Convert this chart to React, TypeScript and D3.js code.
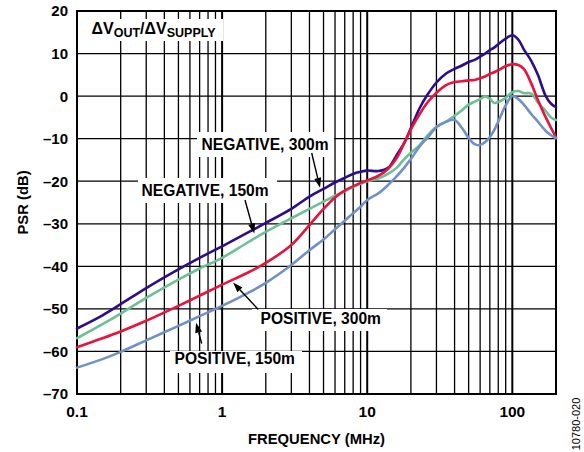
import React from "react";
import * as d3 from "d3";

// ---------- data ----------
const freqMHz = [0.1, 0.15, 0.2, 0.3, 0.5, 0.7, 1, 1.5, 2, 3, 4, 5, 6, 7, 8, 9, 10, 12, 14, 16, 18, 20, 23, 26, 30, 35, 40, 45, 50, 55, 60, 65, 70, 75, 80, 90, 100, 110, 120, 135, 150, 170, 185, 200];

const negative300m = [-54.6, -51.5, -48.9, -45.1, -40.7, -38.0, -35.3, -32.1, -29.8, -26.5, -23.6, -21.8, -20.3, -19.2, -18.3, -17.8, -17.5, -17.6, -16.8, -13.8, -11, -7.5, -2.8, 0.3, 3.2, 5.3, 6.4, 7.2, 8, 8.5, 9.3, 10, 10.8, 11.4, 12.2, 13.5, 14.3, 13.3, 11, 8.3, 5, 0, -1.8, -2.6];
const positive300m = [-59, -56.9, -55.3, -52.8, -49.3, -46.9, -44.3, -41.5, -39.2, -35, -30.3, -26.5, -23.8, -22.2, -21.2, -20.4, -19.8, -18.7, -17, -14.5, -11, -7.8, -4.2, -1.5, 0.8, 2.6, 3.3, 3.5, 3.7, 3.8, 4.2, 4.6, 5.2, 5.6, 6.1, 7, 7.5, 7.3, 6.4, 3, -0.9, -5, -7.5, -9.7];
const negative150m = [-56.9, -53.6, -51.1, -47.4, -43.1, -40.5, -38, -34.4, -31.9, -28.7, -26.5, -24.8, -23.4, -22.3, -21.3, -20.6, -20, -19.3, -18.2, -16.8, -14.8, -13.3, -11.5, -9.3, -7.2, -6, -4.6, -3.3, -2, -1.3, -0.7, -0.1, -0.6, -1.6, -1.4, -0.4, 0.9, 1.2, 0.7, 0.6, -1.5, -3.5, -5, -5.6];
const positive150m = [-63.8, -61.8, -60.1, -57.4, -54.0, -51.7, -49.3, -46.3, -43.9, -39.7, -36.2, -33.7, -31.3, -29.3, -27.5, -26, -24.4, -22.8, -20.8, -18.8, -16.8, -14.8, -11.8, -9.8, -7.3, -6, -5.6, -7.5, -9.8, -11.3, -11.5, -10.8, -9.6, -8, -6, -2.2, 0, -0.7, -2, -4.2, -6, -8.2, -9.2, -9.9];

const seriesNames = ["NEGATIVE, 300m", "NEGATIVE, 150m", "POSITIVE, 300m", "POSITIVE, 150m"];
const seriesValues = [negative300m, negative150m, positive300m, positive150m];
const seriesColors = ["#2d0d8c", "#6dbf95", "#e8123d", "#7091c6"];

const xTickValues = [0.1, 1, 10, 100];
const xTickLabels = ["0.1", "1", "10", "100"];
const yTickValues = [20, 10, 0, -10, -20, -30, -40, -50, -60, -70];

// ---------- layout ----------
const W = 584;
const H = 452;
const left = 77, right = 556, top = 11, bottom = 394;
const FONT = "'Liberation Sans', Arial, Helvetica, sans-serif";

const x = d3.scaleLog().domain([0.1, 200]).range([left, right]);
const y = d3.scaleLinear().domain([-70, 20]).range([bottom, top]);

const fmtY = (v: number) => (v < 0 ? "\u2013" + Math.abs(v) : String(v));

function valueAt(vals: number[], f: number) {
  const lf = Math.log10(f);
  for (let i = 0; i < freqMHz.length - 1; i++) {
    const a = Math.log10(freqMHz[i]);
    const b = Math.log10(freqMHz[i + 1]);
    if (lf >= a && lf <= b) {
      const t = (lf - a) / (b - a);
      return vals[i] + t * (vals[i + 1] - vals[i]);
    }
  }
  return vals[vals.length - 1];
}

// label boxes: [boxX, boxY, boxW, boxH, textX, baseline, tailX, tailY, tipFreq, tipOffset]
const labelLayout: [number, number, number, number, number, number, number, number, number, number][] = [
  [197, 132, 137, 25, 201.5, 150, 311.7, 153, 4.73, -3],
  [138, 178, 139, 25, 141.5, 196, 245, 200, 1.667, -5],
  [252, 309, 135, 22, 260.5, 323.5, 258.3, 309.5, 1.19, 3],
  [170, 351, 132, 22, 174.5, 363.5, 201.7, 343.5, 0.661, 5],
];

function Arrow({ x1, y1, x2, y2 }: { x1: number; y1: number; x2: number; y2: number }) {
  const ang = Math.atan2(y2 - y1, x2 - x1);
  const L = 10, Wd = 3.5;
  const bx = x2 - L * Math.cos(ang);
  const by = y2 - L * Math.sin(ang);
  const px = -Math.sin(ang) * Wd;
  const py = Math.cos(ang) * Wd;
  return (
    <g>
      <line x1={x1} y1={y1} x2={bx} y2={by} stroke="#000" strokeWidth={1.4} />
      <polygon points={`${x2},${y2} ${bx + px},${by + py} ${bx - px},${by - py}`} fill="#000" />
    </g>
  );
}

export default function App() {
  const gridX: { v: number; major: boolean }[] = [];
  [0.1, 1, 10, 100].forEach((d) => {
    for (let m = 1; m <= 9; m++) {
      const v = d * m;
      if (v > 0.1 + 1e-9 && v < 200 - 1e-9) gridX.push({ v, major: m === 1 });
    }
  });

  const line = d3
    .line<number>()
    .x((_, i) => x(freqMHz[i]))
    .y((d) => y(d))
    .curve(d3.curveCatmullRom.alpha(0.5));

  return (
    <>
      <style>{"body{margin:0}"}</style>
      <svg width={W} height={H} style={{ position: "absolute", left: 0, top: 0, background: "#fff" }} fontFamily={FONT}>
        {/* grid */}
        {gridX.map((g, i) => (
          <line key={"gx" + i} x1={x(g.v)} x2={x(g.v)} y1={top} y2={bottom} stroke="#000" strokeWidth={g.major ? 2 : 1.3} />
        ))}
        {yTickValues.map((v, i) => (
          <line key={"gy" + i} x1={left} x2={right} y1={y(v)} y2={y(v)} stroke="#000" strokeWidth={1.3} />
        ))}
        <rect x={left} y={top} width={right - left} height={bottom - top} fill="none" stroke="#000" strokeWidth={2} />

        {/* header annotation */}
        <rect x={89} y={19} width={134} height={22} fill="#fff" />
        <text x={91.5} y={33.5} fontSize={16} fontWeight="bold">
          <tspan>ΔV</tspan>
          <tspan fontSize={12.5} dy={3}>OUT</tspan>
          <tspan dy={-3}>/ΔV</tspan>
          <tspan fontSize={12.5} dy={3}>SUPPLY</tspan>
        </text>

        {/* label boxes */}
        {labelLayout.map((l, i) => (
          <g key={"lb" + i}>
            <rect x={l[0]} y={l[1]} width={l[2]} height={l[3]} fill="#fff" />
            <text x={l[4]} y={l[5]} fontSize={15.6} fontWeight="bold">{seriesNames[i]}</text>
          </g>
        ))}

        {/* series */}
        {seriesValues.map((vals, i) => (
          <path key={"s" + i} d={line(vals) || ""} fill="none" stroke={seriesColors[i]} strokeWidth={2.6} strokeLinejoin="round" strokeLinecap="round" />
        ))}

        {/* arrows */}
        {labelLayout.map((l, i) => {
          const tx = x(l[8]);
          const ty = y(valueAt(seriesValues[i], l[8])) + l[9];
          return <Arrow key={"ar" + i} x1={l[6]} y1={l[7]} x2={tx} y2={ty} />;
        })}

        {/* y ticks */}
        {yTickValues.map((v, i) => (
          <text key={"yt" + i} x={68} y={y(v)} dy="0.36em" textAnchor="end" fontSize={15} fontWeight="bold">{fmtY(v)}</text>
        ))}
        {/* x ticks */}
        {xTickValues.map((v, i) => (
          <text key={"xt" + i} x={x(v)} y={417} textAnchor="middle" fontSize={15.5} fontWeight="bold">{xTickLabels[i]}</text>
        ))}

        {/* axis titles */}
        <text x={(left + right) / 2} y={444} textAnchor="middle" fontSize={14.8} fontWeight="bold">FREQUENCY (MHz)</text>
        <text transform={`translate(27.5,${(top + bottom) / 2}) rotate(-90)`} textAnchor="middle" fontSize={14.8} fontWeight="bold">PSR (dB)</text>

        {/* figure id */}
        <text transform="translate(580,424) rotate(-90)" textAnchor="middle" fontSize={11}>10780-020</text>
      </svg>
    </>
  );
}
